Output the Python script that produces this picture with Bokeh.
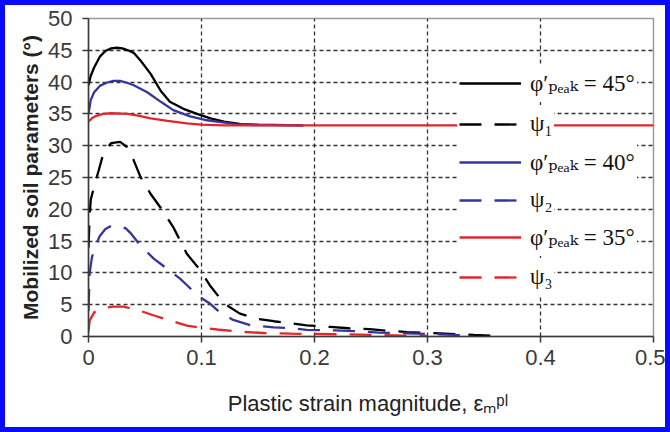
from bokeh.plotting import figure
from bokeh.models import Range1d, FixedTicker, Legend, LegendItem
from bokeh.embed import file_html
from bokeh.resources import INLINE

# ---- data ----
phi45_x = [0, 0.002, 0.005, 0.01, 0.015, 0.02, 0.025, 0.03, 0.035, 0.04, 0.046, 0.055, 0.064, 0.072, 0.084, 0.096, 0.108, 0.12, 0.135, 0.15, 0.19]
phi45_y = [39.5, 41.0, 42.3, 44.0, 44.9, 45.3, 45.4, 45.3, 45.0, 44.6, 43.4, 41.3, 38.6, 36.9, 35.8, 35.0, 34.3, 33.8, 33.4, 33.3, 33.2]

psi1_x = [0, 0.001, 0.002, 0.005, 0.009, 0.0135, 0.02, 0.028, 0.034, 0.04, 0.046, 0.055, 0.064, 0.075, 0.087, 0.099, 0.108, 0.12, 0.134, 0.149, 0.164, 0.179, 0.193, 0.214, 0.23, 0.249, 0.265, 0.282, 0.311, 0.341, 0.36]
psi1_y = [14.0, 19.0, 21.5, 23.6, 26.1, 29.0, 30.4, 30.6, 29.8, 27.7, 25.1, 22.4, 20.2, 17.2, 13.0, 10.4, 7.9, 5.2, 3.6, 2.8, 2.4, 2.1, 1.75, 1.5, 1.3, 1.15, 0.9, 0.7, 0.5, 0.25, 0.1]

phi40_x = [0, 0.002, 0.005, 0.01, 0.016, 0.022, 0.028, 0.034, 0.04, 0.052, 0.064, 0.075, 0.09, 0.105, 0.117, 0.13, 0.145, 0.19]
phi40_y = [35.0, 37.2, 38.4, 39.4, 39.9, 40.2, 40.2, 39.9, 39.5, 38.4, 36.9, 35.6, 34.6, 34.0, 33.7, 33.4, 33.25, 33.2]

psi2_x = [0, 0.001, 0.003, 0.006, 0.01, 0.015, 0.02, 0.027, 0.033, 0.037, 0.046, 0.058, 0.07, 0.081, 0.087, 0.096, 0.108, 0.115, 0.128, 0.143, 0.164, 0.179, 0.193, 0.218, 0.243, 0.257, 0.282, 0.311, 0.33]
psi2_y = [4.0, 10.0, 12.4, 14.2, 15.8, 16.9, 17.4, 17.4, 17.0, 16.3, 14.3, 12.2, 10.6, 9.1, 8.1, 6.5, 5.1, 4.0, 2.6, 1.8, 1.45, 1.3, 1.05, 0.95, 0.8, 0.6, 0.5, 0.35, 0.2]

phi35_x = [0, 0.003, 0.007, 0.013, 0.02, 0.035, 0.045, 0.055, 0.07, 0.087, 0.1, 0.12, 0.5]
phi35_y = [33.8, 34.3, 34.7, 35.0, 35.1, 35.0, 34.7, 34.3, 33.9, 33.5, 33.3, 33.2, 33.2]

psi3_x = [0, 0.001, 0.005, 0.0135, 0.022, 0.031, 0.043, 0.058, 0.0725, 0.087, 0.099, 0.114, 0.134, 0.155, 0.179, 0.2, 0.223, 0.25, 0.28, 0.3]
psi3_y = [0.8, 2.5, 3.8, 4.5, 4.7, 4.7, 4.2, 3.3, 2.5, 1.7, 1.4, 1.1, 0.75, 0.55, 0.45, 0.4, 0.35, 0.25, 0.15, 0.1]

x_ticks = [0, 0.1, 0.2, 0.3, 0.4, 0.5]
x_tick_labels = ["0", "0.1", "0.2", "0.3", "0.4", "0.5"]
y_ticks = [0, 5, 10, 15, 20, 25, 30, 35, 40, 45, 50]

series = [
    ("φ′ₚₑₐₖ = 45°", phi45_x, phi45_y, "#000000", "solid"),
    ("ψ₁", psi1_x, psi1_y, "#000000", "22 13"),
    ("φ′ₚₑₐₖ = 40°", phi40_x, phi40_y, "#3535a0", "solid"),
    ("ψ₂", psi2_x, psi2_y, "#3535a0", "22 13"),
    ("φ′ₚₑₐₖ = 35°", phi35_x, phi35_y, "#e3262a", "solid"),
    ("ψ₃", psi3_x, psi3_y, "#e3262a", "22 13"),
]

B = 5  # blue picture border (CSS border around the figure)
# the canvas starts inside the border, at (B, B); frame target: left 88, top 18, right 653, bottom 336
p = figure(width=670 - 2 * B, height=432 - 2 * B, output_backend="svg", toolbar_location=None,
           x_range=Range1d(0, 0.5), y_range=Range1d(0, 50),
           min_border_left=88 - B, min_border_right=670 + B - 653,
           min_border_top=18 - B, min_border_bottom=432 + B - 336)
p.styles = {"border": f"{B}px solid #0a0aff", "box-sizing": "content-box"}
p.background_fill_color = "white"
p.border_fill_color = "white"
p.outline_line_color = "#9a9a9a"
p.outline_line_width = 1.5

# axes
p.xaxis.ticker = FixedTicker(ticks=x_ticks)
p.xaxis.major_label_overrides = {t: l for t, l in zip(x_ticks, x_tick_labels)}
p.yaxis.ticker = FixedTicker(ticks=y_ticks)
for ax in (p.xaxis, p.yaxis):
    ax.axis_line_color = "#3a3a3a"
    ax.axis_line_width = 1.5
    ax.major_tick_line_color = "#3a3a3a"
    ax.major_tick_line_width = 1.5
    ax.major_tick_out = 6
    ax.major_tick_in = 0
    ax.minor_tick_out = 0
    ax.minor_tick_in = 0
    ax.major_label_text_font = "Liberation Sans"
    ax.major_label_text_font_size = "22px"
    ax.major_label_text_color = "#3a3a3a"
    ax.axis_label_text_font = "Liberation Sans"
    ax.axis_label_text_color = "#222222"
p.xaxis.major_label_standoff = 7
p.yaxis.major_label_standoff = 10
p.xaxis.axis_label = "Plastic strain magnitude,  εₘᵖˡ"
p.xaxis.axis_label_text_font_size = "22px"
p.xaxis.axis_label_text_font_style = "normal"
p.xaxis.axis_label_standoff = 23
p.yaxis.axis_label = "Mobilized soil parameters (°)"
p.yaxis.axis_label_text_font_size = "21px"
p.yaxis.axis_label_text_font_style = "bold"
p.yaxis.axis_label_standoff = 3

# grid
p.xgrid.ticker = FixedTicker(ticks=x_ticks[1:-1])
p.ygrid.ticker = FixedTicker(ticks=y_ticks[1:-1])
for g in (p.xgrid, p.ygrid):
    g.grid_line_color = "#333333"
    g.grid_line_width = 1.3
    g.grid_line_dash = "4 3"

renderers = []
for label, xs, ys, color, dash in series:
    r = p.line(xs, ys, line_color=color, line_width=2.3, line_dash=dash)
    renderers.append((label, r))

# one legend box per entry, stacked at the right
centers = [65, 106, 144, 182, 219, 259]  # px below frame top
frame_h = 336 - 18
leg_h = 38
for (label, r), c in zip(renderers, centers):
    leg = Legend(items=[LegendItem(label=label, renderers=[r])],
                 location=(369, frame_h - c - leg_h / 2),
                 orientation="vertical",
                 background_fill_color="white", background_fill_alpha=1.0,
                 border_line_alpha=0, padding=2, margin=0, spacing=0,
                 glyph_width=62, glyph_height=20, label_height=34,
                 label_standoff=9,
                 label_text_font="'Liberation Serif', 'DejaVu Serif', serif",
                 label_text_font_size="23px",
                 label_text_color="#111111")
    p.add_layout(leg)

open("out.html", "w").write(file_html(p, INLINE))
